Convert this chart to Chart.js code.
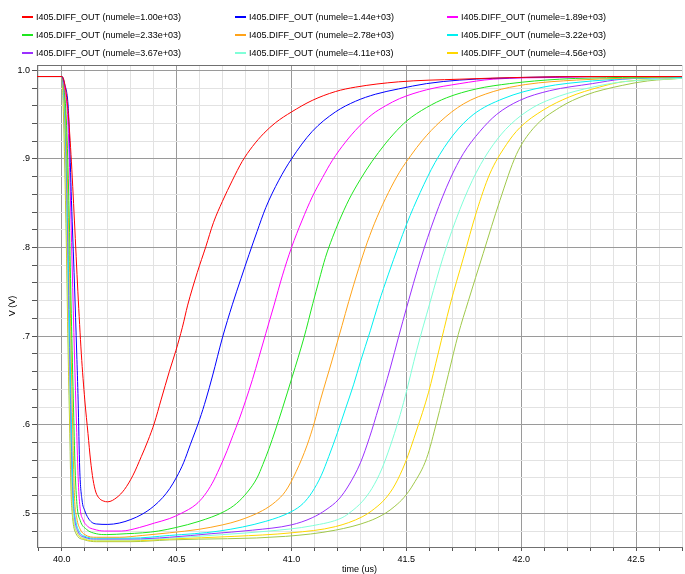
<!DOCTYPE html>
<html>
<head>
<meta charset="utf-8">
<script src="https://cdn.jsdelivr.net/npm/chart.js@4.4.0/dist/chart.umd.min.js"></script>
<style>
  html, body { margin: 0; padding: 0; background: #fff; }
</style>
</head>
<body>
<canvas id="chart" width="685" height="574"></canvas>
<script>
// series names (numele) and colours
const numele = ["1.00e+03", "1.44e+03", "1.89e+03", "2.33e+03", "2.78e+03",
                "3.22e+03", "3.67e+03", "4.11e+03", "4.56e+03", "5.00e+03"];
const colors = ["#ff0000", "#0000ff", "#ff00ff", "#1fe61f", "#ffa31a",
                "#00f0f0", "#9b30ff", "#80ffd8", "#ffd700", "#a0c84a"];

// [time (us), V]
const s1000 = [[39.892,.993],[40.0,.993],[40.01,.988],[40.025,.96],[40.04,.905],[40.055,.83],[40.07,.75],[40.085,.68],[40.1,.628],[40.114,.59],[40.125,.56],[40.136,.538],[40.148,.524],[40.163,.517],[40.18,.514],[40.2,.513],[40.24,.518],[40.273,.527],[40.31,.543],[40.346,.564],[40.375,.582],[40.403,.602],[40.432,.628],[40.468,.66],[40.497,.684],[40.525,.71],[40.548,.735],[40.59,.772],[40.627,.801],[40.66,.828],[40.699,.852],[40.743,.876],[40.785,.897],[40.83,.914],[40.88,.929],[40.931,.941],[41.0,.953],[41.09,.966],[41.191,.976],[41.278,.981],[41.466,.987],[41.733,.99],[42.0,.992],[42.3,.993],[42.7,.993]];
const s1440 = [[39.892,.993],[40.0,.993],[40.012,.985],[40.027,.962],[40.032,.936],[40.042,.853],[40.055,.76],[40.065,.68],[40.071,.628],[40.078,.55],[40.088,.515],[40.1,.503],[40.114,.495],[40.13,.49],[40.15,.488],[40.2,.4875],[40.25,.489],[40.3,.493],[40.35,.499],[40.4,.508],[40.44,.518],[40.47,.528],[40.5,.541],[40.53,.557],[40.56,.578],[40.6,.606],[40.628,.629],[40.656,.655],[40.699,.698],[40.743,.736],[40.78,.765],[40.815,.792],[40.85,.818],[40.888,.845],[40.945,.876],[41.0,.9],[41.09,.931],[41.191,.953],[41.278,.965],[41.365,.973],[41.466,.979],[41.588,.985],[41.733,.989],[42.02,.992],[42.3,.993],[42.7,.993]];
const s1890 = [[39.892,.993],[40.0,.993],[40.012,.98],[40.025,.95],[40.035,.88],[40.045,.78],[40.055,.68],[40.064,.6],[40.072,.535],[40.08,.505],[40.092,.493],[40.114,.485],[40.14,.482],[40.186,.48],[40.259,.48],[40.338,.484],[40.403,.489],[40.468,.494],[40.52,.5],[40.584,.51],[40.62,.52],[40.655,.534],[40.685,.55],[40.72,.571],[40.745,.588],[40.772,.606],[40.8,.627],[40.83,.651],[40.858,.676],[40.888,.703],[40.924,.735],[40.96,.768],[41.0,.8],[41.045,.83],[41.09,.857],[41.135,.879],[41.177,.898],[41.235,.919],[41.292,.936],[41.35,.95],[41.41,.96],[41.47,.968],[41.588,.978],[41.733,.985],[41.878,.99],[42.167,.992],[42.4,.993],[42.7,.993]];
const s2330 = [[39.892,.993],[40.0,.993],[40.012,.975],[40.022,.93],[40.032,.84],[40.04,.74],[40.05,.63],[40.058,.55],[40.066,.51],[40.08,.492],[40.107,.482],[40.15,.477],[40.194,.476],[40.28,.477],[40.352,.478],[40.42,.48],[40.497,.484],[40.598,.491],[40.707,.502],[40.76,.511],[40.808,.524],[40.85,.54],[40.875,.555],[40.902,.573],[40.93,.594],[40.96,.618],[41.003,.654],[41.054,.698],[41.093,.737],[41.12,.763],[41.148,.789],[41.178,.811],[41.206,.829],[41.25,.854],[41.3,.877],[41.35,.897],[41.408,.917],[41.444,.928],[41.502,.943],[41.588,.958],[41.675,.969],[41.805,.979],[41.95,.985],[42.167,.99],[42.44,.992],[42.7,.993]];
const s2780 = [[39.892,.993],[40.0,.993],[40.012,.97],[40.02,.92],[40.03,.82],[40.038,.72],[40.047,.6],[40.055,.52],[40.065,.495],[40.08,.482],[40.1,.476],[40.15,.473],[40.25,.473],[40.35,.475],[40.468,.478],[40.598,.482],[40.7,.487],[40.772,.492],[40.873,.503],[40.93,.513],[40.974,.525],[41.02,.547],[41.068,.577],[41.1,.603],[41.126,.628],[41.177,.673],[41.22,.712],[41.249,.739],[41.292,.776],[41.33,.806],[41.372,.834],[41.422,.862],[41.47,.885],[41.52,.904],[41.57,.921],[41.647,.942],[41.748,.962],[41.878,.976],[42.02,.984],[42.24,.989],[42.44,.991],[42.7,.993]];
const s3220 = [[39.892,.993],[40.0,.993],[40.01,.97],[40.018,.92],[40.027,.82],[40.035,.7],[40.043,.59],[40.05,.52],[40.06,.493],[40.075,.48],[40.1,.474],[40.15,.472],[40.3,.472],[40.468,.475],[40.685,.48],[40.888,.491],[41.0,.502],[41.05,.511],[41.09,.524],[41.13,.543],[41.162,.564],[41.2,.591],[41.235,.618],[41.27,.645],[41.3,.671],[41.343,.706],[41.379,.737],[41.422,.77],[41.466,.802],[41.502,.827],[41.56,.862],[41.625,.896],[41.704,.927],[41.791,.95],[41.921,.968],[42.095,.981],[42.31,.988],[42.5,.991],[42.7,.992]];
const s3670 = [[39.892,.993],[40.0,.993],[40.01,.97],[40.017,.92],[40.025,.82],[40.033,.7],[40.04,.6],[40.047,.53],[40.056,.495],[40.07,.48],[40.1,.473],[40.15,.471],[40.3,.471],[40.468,.473],[40.65,.477],[40.83,.481],[41.0,.487],[41.09,.495],[41.15,.504],[41.206,.516],[41.25,.532],[41.3,.557],[41.34,.586],[41.379,.619],[41.43,.664],[41.466,.699],[41.502,.733],[41.56,.785],[41.625,.835],[41.69,.877],[41.748,.906],[41.82,.931],[41.892,.95],[41.993,.966],[42.124,.977],[42.31,.985],[42.44,.99],[42.7,.992]];
const s4110 = [[39.892,.993],[40.0,.993],[40.01,.965],[40.016,.91],[40.024,.8],[40.031,.69],[40.038,.6],[40.045,.525],[40.053,.493],[40.068,.479],[40.1,.472],[40.15,.47],[40.3,.47],[40.468,.472],[40.7,.476],[40.902,.48],[41.09,.486],[41.22,.495],[41.26,.502],[41.307,.513],[41.35,.528],[41.393,.55],[41.43,.576],[41.466,.605],[41.495,.632],[41.545,.684],[41.603,.738],[41.661,.79],[41.733,.843],[41.805,.885],[41.878,.916],[41.95,.938],[42.051,.958],[42.167,.971],[42.31,.981],[42.44,.987],[42.7,.991]];
const s4560 = [[39.892,.993],[40.0,.993],[40.008,.965],[40.015,.9],[40.022,.8],[40.029,.69],[40.036,.6],[40.043,.525],[40.05,.495],[40.065,.479],[40.1,.471],[40.15,.469],[40.3,.469],[40.468,.471],[40.75,.474],[41.0,.478],[41.191,.485],[41.307,.496],[41.36,.505],[41.41,.517],[41.45,.532],[41.495,.557],[41.545,.594],[41.596,.636],[41.639,.681],[41.69,.735],[41.748,.788],[41.805,.84],[41.863,.883],[41.935,.916],[41.993,.935],[42.095,.955],[42.21,.97],[42.34,.981],[42.44,.987],[42.7,.991]];
const s5000 = [[39.892,.993],[40.0,.993],[40.006,.96],[40.012,.9],[40.02,.8],[40.027,.69],[40.034,.6],[40.04,.525],[40.047,.495],[40.06,.478],[40.1,.47],[40.15,.468],[40.3,.468],[40.468,.47],[40.974,.474],[41.191,.481],[41.336,.491],[41.408,.5],[41.45,.508],[41.49,.518],[41.531,.533],[41.588,.562],[41.632,.603],[41.683,.657],[41.726,.702],[41.769,.739],[41.834,.793],[41.907,.853],[41.979,.905],[42.051,.934],[42.167,.958],[42.28,.972],[42.44,.983],[42.55,.988],[42.7,.991]];

const series = [s1000, s1440, s1890, s2330, s2780, s3220, s3670, s4110, s4560, s5000];
const legendCount = 9; // the last curve has no legend entry in the original

// axis labels
const xMajor = [40.0, 40.5, 41.0, 41.5, 42.0, 42.5];
const xLabels = ["40.0", "40.5", "41.0", "41.5", "42.0", "42.5"];
const yMajor = [0.5, 0.6, 0.7, 0.8, 0.9, 1.0];
const yLabels = [".5", ".6", ".7", ".8", ".9", "1.0"];

// minor grid every 0.1 us and every 0.02 V
const xTicks = [];
for (let i = 399; i <= 427; i++) xTicks.push(i / 10);
const yTicks = [];
for (let i = 24; i <= 50; i++) yTicks.push(i / 50);

const findMajor = (v, majors) => majors.findIndex((m) => Math.abs(m - v) < 1e-6);

const FONT = '"Liberation Sans", Arial, sans-serif';
Chart.defaults.font.family = FONT;
Chart.defaults.font.size = 9;
Chart.defaults.color = "#000";

// top border of the plot frame
const frame = {
  id: "frame",
  afterDraw(chart) {
    const { ctx, chartArea } = chart;
    ctx.save();
    ctx.strokeStyle = "#707070";
    ctx.lineWidth = 1;
    ctx.beginPath();
    ctx.moveTo(chartArea.left, Math.round(chartArea.top) + 0.5);
    ctx.lineTo(chartArea.right, Math.round(chartArea.top) + 0.5);
    ctx.stroke();
    ctx.restore();
  },
};

// legend in three columns, as in the original
const legendCols = [22, 235, 447];
const legendRows = [17, 35, 53];
const gridLegend = {
  id: "gridLegend",
  afterDraw(chart) {
    const { ctx } = chart;
    ctx.save();
    ctx.font = "9px " + FONT;
    ctx.textBaseline = "middle";
    ctx.lineWidth = 2;
    chart.data.datasets.slice(0, legendCount).forEach((ds, i) => {
      const x = legendCols[i % 3];
      const y = legendRows[Math.floor(i / 3)];
      ctx.strokeStyle = ds.borderColor;
      ctx.beginPath();
      ctx.moveTo(x, y);
      ctx.lineTo(x + 11, y);
      ctx.stroke();
      ctx.fillStyle = "#000";
      ctx.fillText(ds.label, x + 14, y + 0.5);
    });
    ctx.restore();
  },
};

new Chart(document.getElementById("chart"), {
  type: "line",
  data: {
    datasets: series.map((pts, i) => ({
      label: "I405.DIFF_OUT (numele=" + numele[i] + ")",
      data: pts.map(([t, v]) => ({ x: t, y: v })),
      borderColor: colors[i],
      backgroundColor: colors[i],
      borderWidth: 1,
      pointRadius: 0,
      cubicInterpolationMode: "monotone",
      fill: false,
    })),
  },
  options: {
    responsive: false,
    animation: false,
    layout: { padding: { top: 65, left: 0, right: 0, bottom: 0 } },
    plugins: { legend: { display: false }, tooltip: { enabled: false } },
    scales: {
      x: {
        type: "linear",
        bounds: "data",
        min: 39.892,
        max: 42.7,
        afterBuildTicks: (s) => { s.ticks = xTicks.map((v) => ({ value: v })); },
        afterFit: (s) => { s.height = 27; },
        ticks: {
          autoSkip: false,
          maxRotation: 0,
          padding: 3,
          color: "#000",
          callback: (v) => { const i = findMajor(v, xMajor); return i < 0 ? "" : xLabels[i]; },
        },
        grid: {
          color: (c) => (c.tick && findMajor(c.tick.value, xMajor) >= 0 ? "#9a9a9a" : "#e2e2e2"),
          tickColor: "#555",
          tickLength: 4,
        },
        border: { color: "#707070" },
        title: { display: true, text: "time (us)", font: { size: 9, lineHeight: 1 }, padding: { top: 0, bottom: 0 }, color: "#000" },
      },
      y: {
        type: "linear",
        bounds: "data",
        min: 0.462,
        max: 1.006,
        afterBuildTicks: (s) => { s.ticks = yTicks.map((v) => ({ value: v })); },
        afterFit: (s) => { s.width = 37; },
        ticks: {
          autoSkip: false,
          padding: 2,
          color: "#000",
          callback: (v) => { const i = findMajor(v, yMajor); return i < 0 ? "" : yLabels[i]; },
        },
        grid: {
          color: (c) => (c.tick && findMajor(c.tick.value, yMajor) >= 0 ? "#9a9a9a" : "#e2e2e2"),
          tickColor: "#555",
          tickLength: 5,
        },
        border: { color: "#707070" },
        title: { display: true, text: "V (V)", font: { size: 9 }, padding: { top: 7, bottom: 0 }, color: "#000" },
      },
    },
  },
  plugins: [frame, gridLegend],
});
</script>
</body>
</html>
